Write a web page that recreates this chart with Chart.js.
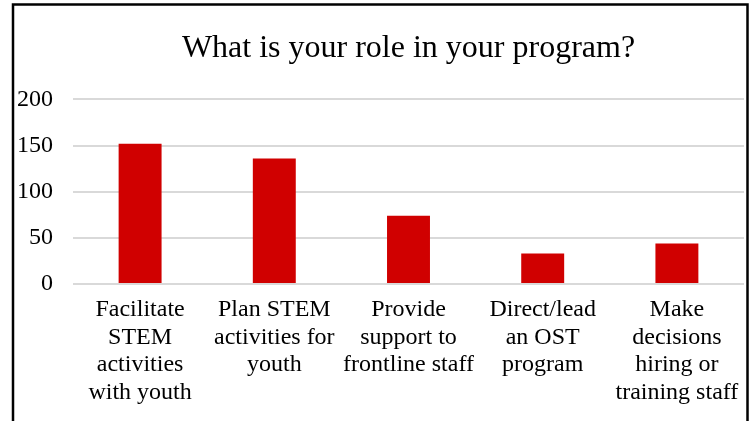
<!DOCTYPE html>
<html>
<head>
<meta charset="utf-8">
<script src="https://cdn.jsdelivr.net/npm/chart.js@4/dist/chart.umd.min.js"></script>
<style>
  html, body { margin: 0; padding: 0; background: #fff; }
  #wrap { width: 753px; height: 421px; position: relative; }
</style>
</head>
<body>
<div id="wrap"><canvas id="roleChart" width="753" height="421"></canvas></div>
<script>
const categories = [
  ["Facilitate", "STEM", "activities", "with youth"],
  ["Plan STEM", "activities for", "youth"],
  ["Provide", "support to", "frontline staff"],
  ["Direct/lead", "an OST", "program"],
  ["Make", "decisions", "hiring or", "training staff"]
];
const responses = [152, 136, 74, 33, 44];
const yTicks = [0, 50, 100, 150, 200];

const serif = "'Liberation Serif', 'Times New Roman', serif";

// black frame around the chart, open at the bottom
const framePlugin = {
  id: "frame",
  afterDraw(chart) {
    const c = chart.ctx;
    c.save();
    c.strokeStyle = "#000";
    c.lineWidth = 2.5;
    c.beginPath();
    c.moveTo(13, 430);
    c.lineTo(13, 4.5);
    c.lineTo(747.5, 4.5);
    c.lineTo(747.5, 430);
    c.stroke();
    c.restore();
  }
};

window.onload = function () {
  const el = document.getElementById("roleChart");
  if (!el) {
    console.error("Canvas element #roleChart not found!");
    return;
  }

  new Chart(el.getContext("2d"), {
    type: "bar",
    data: {
      labels: categories,
      datasets: [
        {
          label: "Responses",
          data: responses,
          backgroundColor: "#D00000",
          borderWidth: 0,
          categoryPercentage: 1,
          barPercentage: 0.32,
        },
      ],
    },
    options: {
      responsive: false,
      animation: false,
      layout: {
        padding: { top: 4, left: 17, right: 9, bottom: 2.5 },
      },
      plugins: {
        legend: { display: false },
        tooltip: { enabled: false },
        title: {
          display: true,
          fullSize: false,
          text: "What is your role in your program?",
          color: "#000",
          font: { family: serif, size: 32, weight: "normal", lineHeight: 1.2 },
          padding: { top: 25.5, bottom: 31.5 },
        },
      },
      scales: {
        x: {
          grid: { display: false, drawTicks: false },
          border: { display: false },
          ticks: {
            color: "#000",
            maxRotation: 0,
            autoSkip: false,
            padding: 12,
            font: { family: serif, size: 24, lineHeight: 1.15 },
          },
        },
        y: {
          min: 0,
          max: 200,
          afterBuildTicks(axis) {
            axis.ticks = yTicks.map((v) => ({ value: v }));
          },
          afterFit(axis) {
            axis.width = 56;
          },
          grid: { color: "#d9d9d9", lineWidth: 2, drawTicks: false },
          border: { display: false },
          ticks: {
            color: "#000",
            padding: 20,
            font: { family: serif, size: 24 },
          },
        },
      },
    },
    plugins: [framePlugin],
  });
};
</script>
</body>
</html>
